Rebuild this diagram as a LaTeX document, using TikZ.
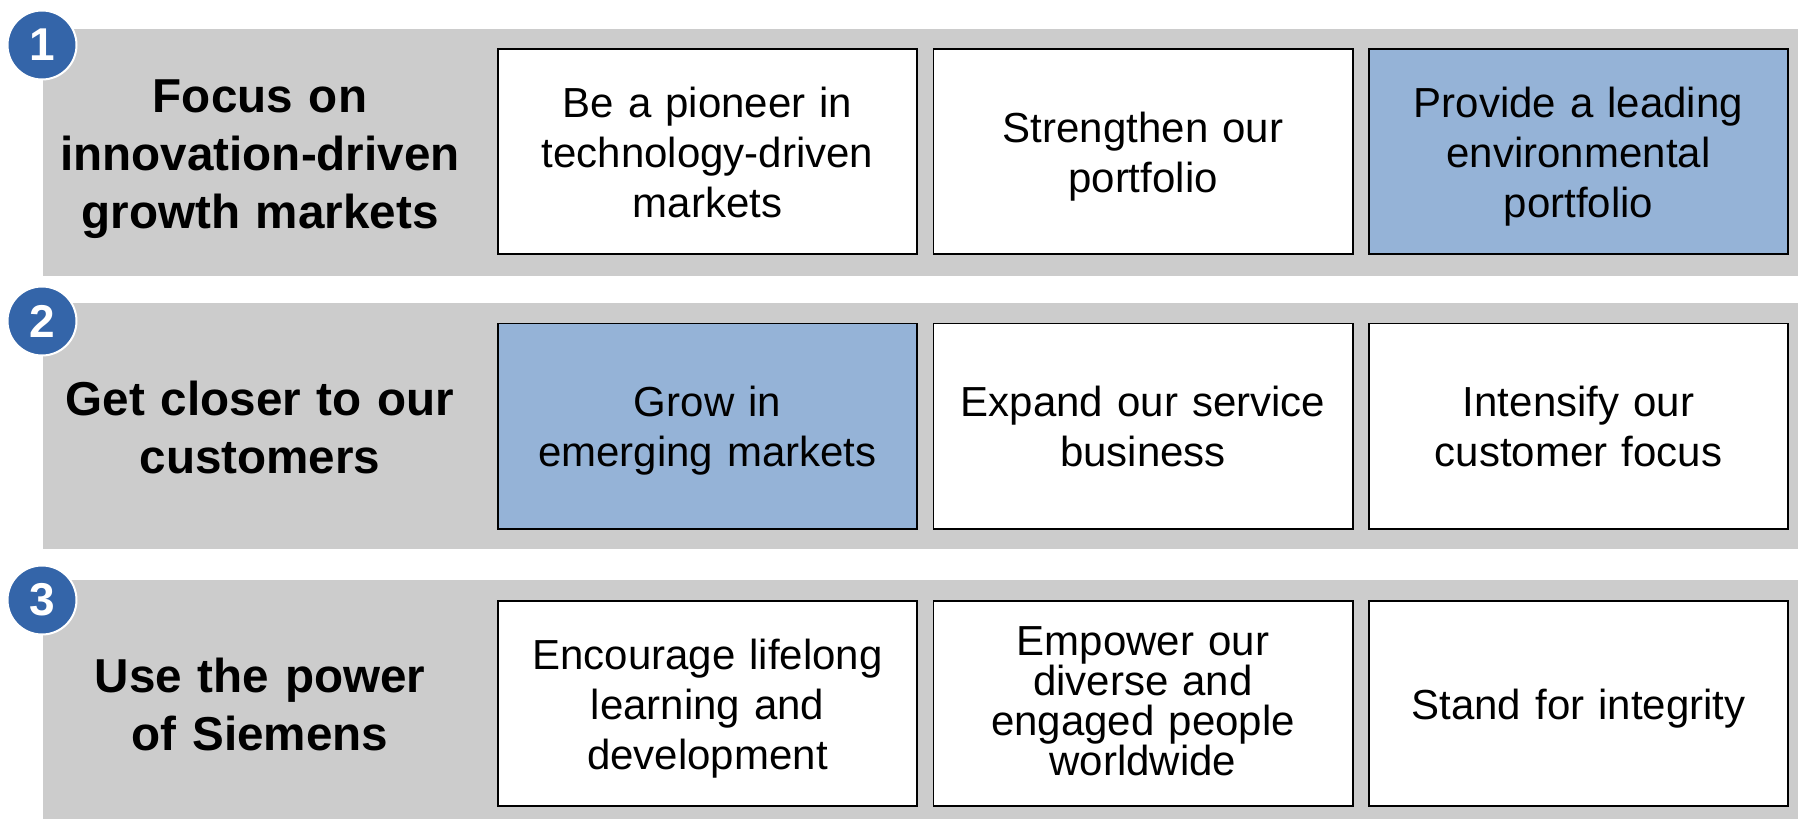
\documentclass[tikz,border=0pt]{standalone}
\usepackage{fontspec}
\setmainfont{Liberation Sans}
\usetikzlibrary{positioning}

\definecolor{bandgray}{HTML}{CCCCCC}
\definecolor{boxblue}{HTML}{95B3D7}
\definecolor{badgeblue}{HTML}{3465A9}

% close the last line with a fixed depth
\newcommand{\lastdepth}[1]{\endgraf\kern-\prevdepth\kern#1\relax}

\begin{document}
\begin{tikzpicture}[x=0.5pt, y=-0.5pt,
	bandrect/.style={fill=bandgray},
	linebox/.style 2 args={execute at begin node={\rule{0pt}{#1}}, execute at end node={\lastdepth{#2}}},
	goalnode/.style={rectangle, draw=black, fill=white, line width=0.8pt, minimum width=209.7pt, minimum height=102.7pt, inner sep=0pt, text width=205pt, align=center, font=\fontsize{21}{25}\selectfont, linebox={19pt}{3.4pt}},
	focusnode/.style={goalnode, fill=boxblue},
	tightnode/.style={goalnode, font=\fontsize{21}{20}\selectfont, linebox={15pt}{3.4pt}},
	headnode/.style={inner sep=0pt, text width=210pt, align=center, font=\bfseries\fontsize{23.8}{29}\selectfont, linebox={21.5pt}{3.3pt}},
	numnode/.style={circle, fill=badgeblue, draw=white, line width=1pt, minimum size=34.5pt, inner sep=0pt, text=white, font=\bfseries\fontsize{23}{23}\selectfont},
	node distance=7.25pt,
	]
	\useasboundingbox (0,0) rectangle (1798,819);
	
	%Bands
	\fill[bandrect] (43,29) rectangle (1798,276);
	\fill[bandrect] (43,303) rectangle (1798,549);
	\fill[bandrect] (43,580) rectangle (1798,819);
	
	%Row 1
	\node[headnode]		(head1)	at (260,152)		{Focus on\\innovation-driven\\growth markets};
	\node[goalnode]		(b11)	at (707.5,151.5)	{Be a pioneer in\\technology-driven\\markets};
	\node[goalnode]		(b12)	[right=of b11]		{Strengthen our\\portfolio};
	\node[focusnode]	(b13)	[right=of b12]		{Provide a leading\\environmental\\portfolio};
	
	%Row 2
	\node[headnode]		(head2)	at (260,426)		{Get closer to our\\customers};
	\node[focusnode]	(b21)	at (707.5,426)		{Grow in\\emerging markets};
	\node[goalnode]		(b22)	[right=of b21]		{Expand our service\\business};
	\node[goalnode]		(b23)	[right=of b22]		{Intensify our\\customer focus};
	
	%Row 3
	\node[headnode]		(head3)	at (260,703.5)		{Use the power\\of Siemens};
	\node[goalnode]		(b31)	at (707.5,703.5)	{Encourage lifelong\\learning and\\development};
	\node[tightnode]	(b32)	[right=of b31]		{Empower our\\diverse and\\engaged people\\worldwide};
	\node[goalnode]		(b33)	[right=of b32]		{Stand for integrity};
	
	%Badges
	\node[numnode]		(num1)	at (42,45)			{1};
	\node[numnode]		(num2)	at (42,321)			{2};
	\node[numnode]		(num3)	at (42,600)			{3};
	
\end{tikzpicture}
\end{document}
